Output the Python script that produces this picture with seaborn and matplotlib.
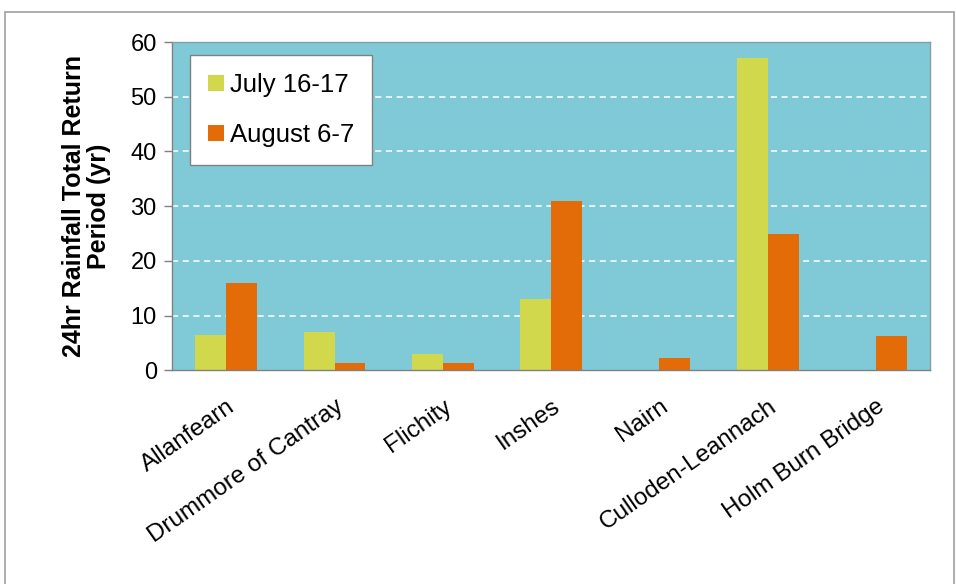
import matplotlib
matplotlib.use("Agg")
import matplotlib.pyplot as plt
import numpy as np
import pandas as pd
import seaborn as sns
from matplotlib.patches import Rectangle

sites = ["Allanfearn", "Drummore of Cantray", "Flichity", "Inshes", "Nairn",
         "Culloden-Leannach", "Holm Burn Bridge"]
july = [6.5, 7.0, 3.0, 13.1, 0.0, 57.0, 0.0]
august = [16.0, 1.4, 1.3, 30.9, 2.2, 25.0, 6.3]
series = ["July 16-17", "August 6-7"]
yticks = [0, 10, 20, 30, 40, 50, 60]

df = pd.DataFrame({
    "site": sites * 2,
    "event": [series[0]] * len(sites) + [series[1]] * len(sites),
    "value": july + august,
})

sns.set_style("white")
plt.rcParams["font.family"] = ["Liberation Sans", "DejaVu Sans"]
plt.rcParams["text.color"] = "black"
plt.rcParams["xtick.labelcolor"] = "black"
plt.rcParams["ytick.labelcolor"] = "black"
plt.rcParams["axes.labelcolor"] = "black"

fig = plt.figure(figsize=(9.56, 5.84), dpi=100)
ax = fig.add_axes([0.180, 0.366, 0.793, 0.562])
ax.set_facecolor("#80CAD8")

sns.barplot(data=df, x="site", y="value", hue="event", order=sites,
            hue_order=series, palette=["#D2D84B", "#E36C09"],
            width=0.57, gap=0, saturation=1, linewidth=0, ax=ax, legend=True)

ax.set_ylim(0, 60)
ax.set_xlim(-0.5, len(sites) - 0.5)
ax.set_yticks(yticks)
ax.set_yticklabels([str(v) for v in yticks], fontsize=17)
for v in yticks[1:-1]:
    ax.axhline(v, color="white", lw=1.1, ls=(0, (4, 3)), zorder=0.5)

ax.set_xticks(range(len(sites)))
ax.set_xticklabels(sites, rotation=35, ha="right", rotation_mode="anchor",
                   fontsize=17.5)
ax.set_xticks(np.arange(-0.5, len(sites), 1), minor=True)
ax.tick_params(axis="x", which="major", length=0, pad=18)
ax.tick_params(axis="x", which="minor", length=7, color="#808080", width=1)
ax.tick_params(axis="y", length=6, color="#808080", width=1, pad=5, left=True)

for s in ["top", "right"]:
    ax.spines[s].set_color("#8a9da5")
    ax.spines[s].set_linewidth(1)
for s in ["left", "bottom"]:
    ax.spines[s].set_color("#808080")
    ax.spines[s].set_linewidth(1)

ax.set_xlabel("")
ax.set_ylabel("24hr Rainfall Total Return\nPeriod (yr)", fontsize=18,
              fontweight="bold", labelpad=14, linespacing=1.05)

leg = ax.legend(loc="upper left", bbox_to_anchor=(0.024, 0.96), fontsize=18.5,
                frameon=True, fancybox=False, edgecolor="#808080",
                framealpha=1, handlelength=0.6, handleheight=0.6,
                handletextpad=0.25, labelspacing=1.0, borderpad=0.7,
                borderaxespad=0)
leg.get_frame().set_linewidth(1)

# outer chart border
fig.patches.append(Rectangle((0.005, -0.05), 0.993, 1.03, transform=fig.transFigure,
                             fill=False, edgecolor="#a0a0a0", lw=1.2))

fig.savefig("out.png", dpi=100)
